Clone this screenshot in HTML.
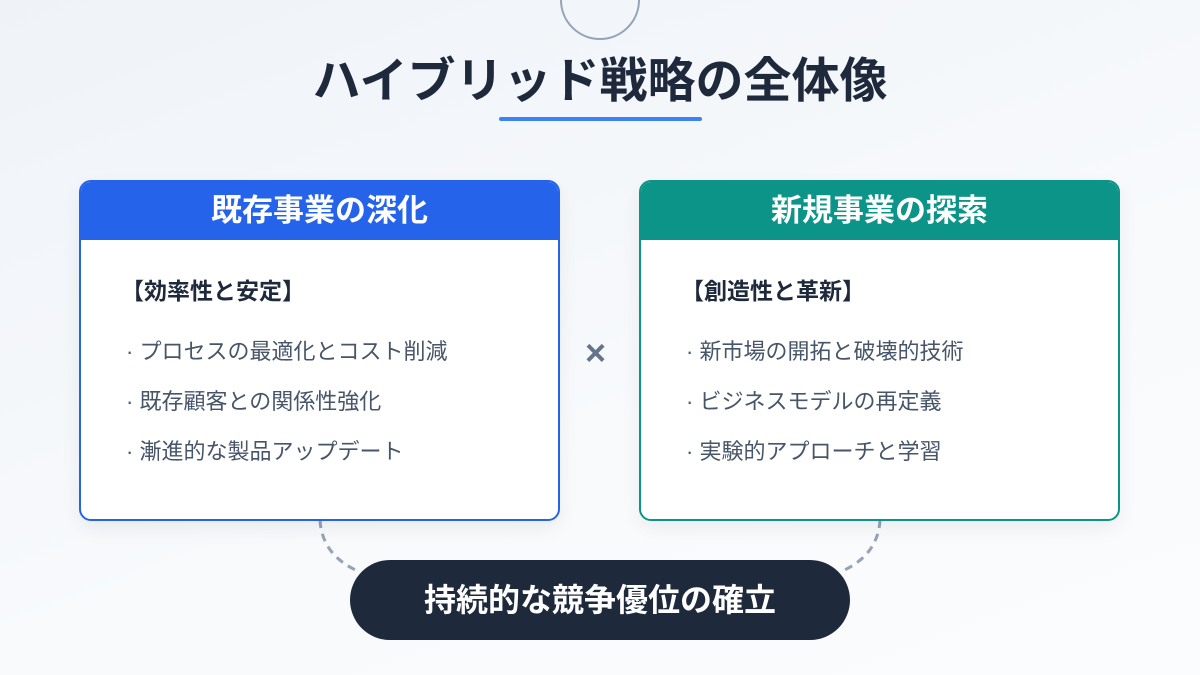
<!DOCTYPE html>
<html><head><meta charset="utf-8"><style>
*{margin:0;padding:0;box-sizing:border-box}
body{width:1200px;height:675px;overflow:hidden;position:relative;background:linear-gradient(160deg,#eff3f8 0%,#f8fafc 60%,#fbfcfd 100%);font-family:"Liberation Sans","Noto Sans CJK JP",sans-serif}
.circle{position:absolute;left:560px;top:-40px;width:80px;height:80px;border:2px solid #94a3b8;border-radius:50%}
h1{position:absolute;left:0;width:1200px;top:50px;text-align:center;font-size:48px;font-weight:bold;color:#1e293b;line-height:64px}
.ul{position:absolute;left:499px;top:117px;width:203px;height:4px;border-radius:2px;background:#3b82f6}
.card{position:absolute;top:180px;width:481px;height:341px;background:#fff;border:2px solid;border-radius:12px;overflow:hidden;box-shadow:0 8px 20px rgba(15,23,42,0.06)}
.hd{height:58px;color:#fff;font-size:31px;font-weight:bold;text-align:center;line-height:58px}
.bd{position:relative}
.h2{position:absolute;left:40px;top:32px;font-size:23px;font-weight:bold;color:#1e293b}
.it{position:absolute;left:45px;font-size:22px;color:#475569}
.x{position:absolute;left:585px;top:332px;font-size:36px;font-weight:bold;color:#64748b}
.pill{position:absolute;left:350px;top:560px;width:500px;height:80px;border-radius:40px;background:#1e293b;color:#fff;font-size:32px;font-weight:bold;text-align:center;line-height:80px}
svg{position:absolute;left:0;top:0}
</style></head><body>
<div class="circle"></div>
<h1>ハイブリッド戦略の全体像</h1>
<div class="ul"></div>
<svg width="1200" height="675"><path d="M320 520 Q322 556 360 572" fill="none" stroke="#94a3b8" stroke-width="3" stroke-dasharray="8 6"/><path d="M880 520 Q878 556 840 572" fill="none" stroke="#94a3b8" stroke-width="3" stroke-dasharray="8 6"/></svg>
<div class="card" style="left:79px;border-color:#2563eb"><div class="hd" style="background:#2563eb">既存事業の深化</div><div class="bd">
<div class="h2">【効率性と安定】</div>
<div class="it" style="top:94px">· プロセスの最適化とコスト削減</div>
<div class="it" style="top:144px">· 既存顧客との関係性強化</div>
<div class="it" style="top:194px">· 漸進的な製品アップデート</div></div></div>
<div class="x">×</div>
<div class="card" style="left:639px;border-color:#0d9488"><div class="hd" style="background:#0d9488">新規事業の探索</div><div class="bd">
<div class="h2">【創造性と革新】</div>
<div class="it" style="top:94px">· 新市場の開拓と破壊的技術</div>
<div class="it" style="top:144px">· ビジネスモデルの再定義</div>
<div class="it" style="top:194px">· 実験的アプローチと学習</div></div></div>
<div class="pill">持続的な競争優位の確立</div>
</body></html>
